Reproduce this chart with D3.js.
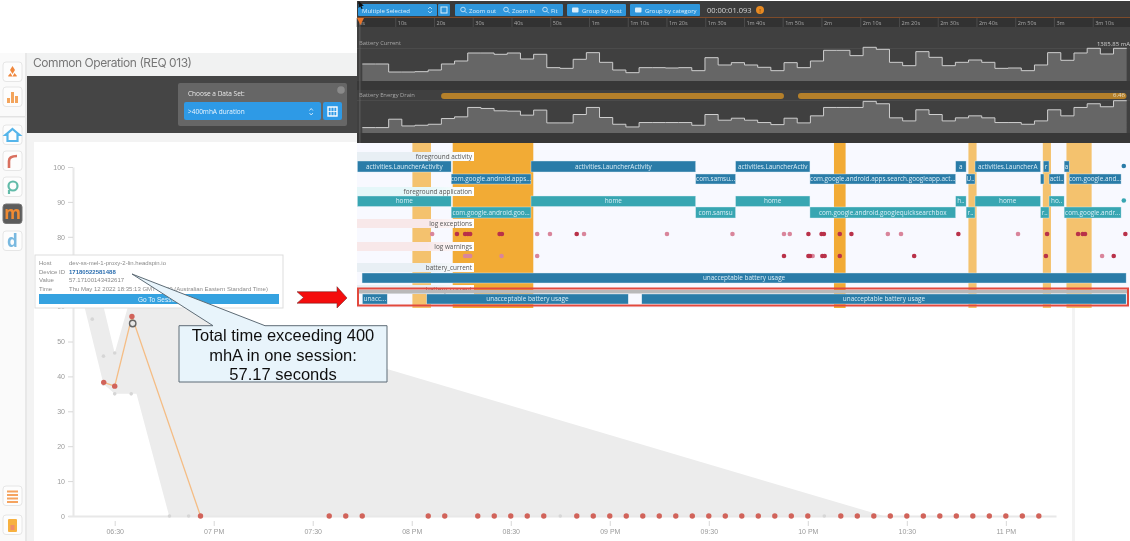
<!DOCTYPE html>
<html>
<head>
<meta charset="utf-8">
<script src="https://d3js.org/d3.v7.min.js"></script>
<style>
html, body { margin: 0; padding: 0; background: #fff; overflow: hidden; }
svg { display: block; }
text { font-family: "Open Sans", sans-serif; }
</style>
</head>
<body>
<svg id="chart" width="1130" height="541"></svg>
<script>
// Session chart: >400mhA duration per session
const sessionTimes = ['18:26:40', '18:30:00', '18:35:13', '18:56:00'];
const sessionValues = [38.3, 37.2, 57.17, 0];
const zeroTimes = ['19:35', '19:40', '19:45', '20:05', '20:10', '20:20', '20:25', '20:30', '20:35', '20:40',
  '20:50', '20:55', '21:00', '21:05', '21:10', '21:15', '21:20', '21:25', '21:30', '21:35', '21:40', '21:45',
  '21:50', '21:55', '22:00', '22:10', '22:15', '22:20', '22:25', '22:30', '22:35', '22:40', '22:45', '22:50',
  '22:55', '23:00', '23:05', '23:10'];
const otherTimes = ['18:23:12', '18:26:36', '18:30:00', '18:26:36', '18:30:00', '18:35:00', '18:46:36', '18:52:24', '20:45:00', '22:05:00'];
const otherValues = [56.4, 45.8, 46.7, 37.8, 35, 35, 0, 0, 0, 0];
const bandTimes = ['18:19:00', '18:26:36', '18:30:00', '18:35:13', '18:36:36', '18:46:30', '22:23:00'];
const bandLow = [67, 37.8, 35, 35, 35, 0, 0];
const bandHigh = [70, 60, 46.7, 64, 63.4, 60.6, 0];
const tickTimes = ['18:30', '19:00', '19:30', '20:00', '20:30', '21:00', '21:30', '22:00', '22:30', '23:00'];
const tickLabels = ['06:30', '07 PM', '07:30', '08 PM', '08:30', '09 PM', '09:30', '10 PM', '10:30', '11 PM'];
// 70 sits behind the tooltip in the picture
const yTicks = [0, 10, 20, 30, 40, 50, 60, 80, 90, 100];

// Waterfall overlay: one value per 3.4 second step
const currentSteps = [700, 700, 370, 370, 384, 453, 700, 823, 1152, 1152, 1098, 1152, 906, 1098, 549, 521, 892, 1166,
  768, 453, 343, 549, 549, 535, 549, 425, 960, 659, 755, 659, 563, 425, 755, 549, 823, 1262, 1262, 1043, 1386, 1303,
  768, 631, 1207, 974, 631, 768, 864, 768, 521, 535, 425, 659, 1166, 851, 1152, 1345, 1111, 1345];
const drainSteps = [1.08, 1.08, 2.76, 1.41, 1.55, 1.75, 2.89, 3.23, 5.11, 4.91, 4.44, 4.37, 3.57, 4.58, 2.02, 2.02, 3.7,
  5.11, 3.1, 1.75, 1.21, 2.09, 2.09, 2.09, 2.09, 1.55, 3.7, 2.56, 2.96, 2.56, 2.09, 1.68, 2.96, 2.02, 3.43, 5.11, 5.11,
  5.11, 6.33, 5.85, 3.03, 2.42, 4.64, 3.7, 2.42, 3.03, 3.43, 3.03, 2.09, 2.09, 1.75, 2.42, 4.64, 3.43, 5.11, 5.85, 5.25, 6.46];
const rulerSeconds = [0, 10, 20, 30, 40, 50, 60, 70, 80, 90, 100, 110, 120, 130, 140, 150, 160, 170, 180, 190];
const rulerLabels = ['0s', '10s', '20s', '30s', '40s', '50s', '1m', '1m 10s', '1m 20s', '1m 30s', '1m 40s', '1m 50s',
  '2m', '2m 10s', '2m 20s', '2m 30s', '2m 40s', '2m 50s', '3m', '3m 10s'];
const drainBars = [[21.7, 110.2], [113.8, 198.6]];

const strongBands = [[24.7, 45.5], [123.1, 126.1]];
const lightBands = [[14.3, 19.1], [157.8, 159.9], [177, 179.1], [183.1, 189.6]];

const activityTop = [[0.1, 24.3, 'activities.LauncherActivity'], [44.9, 87.4, 'activities.LauncherActivity'],
  [97.7, 116.9, 'activities.LauncherActiv'], [154.5, 157.2, 'a'], [159.5, 176.4, 'activities.LauncherA'],
  [177.1, 178.6, 'r'], [182.5, 183.8, 'a']];
const activityLow = [[24.3, 44.9, 'com.google.android.apps...'], [87.4, 97.7, 'com.samsu...'],
  [116.9, 154.5, 'com.google.android.apps.search.googleapp.act...'], [157.2, 159.5, 'U..'], [176.4, 177.3, ''],
  [178.6, 182.5, 'acti..'], [183.8, 197.2, 'com.google.and...']];
const appTop = [[0.1, 24.3, 'home'], [44.9, 87.4, 'home'], [97.7, 116.9, 'home'], [154.5, 157.2, 'h..'],
  [159.5, 176.4, 'home'], [178.6, 182.5, 'ho..']];
const appLow = [[24.3, 44.9, 'com.google.android.goo...'], [87.4, 97.7, 'com.samsu'],
  [116.9, 154.5, 'com.google.android.googlequicksearchbox'], [157.2, 159.5, 'r..'], [176.4, 178.6, 'r..'],
  [182.5, 197.2, 'com.google.andr...']];
const endDots = [197.9];
const exceptionStrong = [25.8, 27.9, 28.6, 29.2, 36.8, 37.4, 56.7, 116.5, 119.9, 120.5, 124.6, 127.6, 155.2, 178.1, 186.1, 187.3, 187.9, 198.3];
const exceptionFaint = [19.4, 46.5, 49.8, 58.6, 80, 96.9, 110.2, 111.7, 137, 140.4, 170.6];
const warningStrong = [110.2, 116.5, 116.9, 120.1, 120.7, 124.6, 143.8, 177.8, 195.3];
const warningFaint = [27.9, 28.6, 29.2, 37.3, 46.5, 117.6, 192.3];
const usageTop = [[1.3, 198.5, 'unacceptable battery usage']];
const usageLow = [[1.4, 7.8, 'unacc...'], [18, 70, 'unacceptable battery usage'], [73.5, 198.5, 'unacceptable battery usage']];

const svg = d3.select('#chart');
const defs = svg.append('defs');
defs.append('filter').attr('id', 'soft').attr('x', '-2%').attr('y', '-2%').attr('width', '104%').attr('height', '104%')
  .append('feGaussianBlur').attr('stdDeviation', 0.65);
defs.append('filter').attr('id', 'softer').append('feGaussianBlur').attr('stdDeviation', 0.3);

function chipGradient(id, color) {
  let g = defs.append('linearGradient').attr('id', id);
  g.append('stop').attr('offset', '60%').attr('stop-color', color);
  g.append('stop').attr('offset', '100%').attr('stop-color', '#ffffff');
}
chipGradient('chipBlue', '#e8eff4');
chipGradient('chipCyan', '#e5f7f9');
chipGradient('chipPink', '#f8e8e9');

const page = svg.append('g').attr('filter', 'url(#soft)');

function box(parent, x, y, w, h, fill, r) {
  return parent.append('rect').attr('x', x).attr('y', y).attr('width', w).attr('height', h)
    .attr('fill', fill).attr('rx', r || 0);
}
function label(parent, x, y, str, size, color, anchor, family) {
  let t = parent.append('text').attr('x', x).attr('y', y).attr('font-size', size).attr('fill', color)
    .attr('text-anchor', anchor || 'start').text(str);
  if (family) t.style('font-family', family);
  return t;
}

// ---------- Page behind the overlay ----------
box(page, 0, 0, 1130, 541, '#ffffff');
box(page, 0, 53, 25, 488, '#fafafa');
box(page, 25, 53, 2, 488, '#e8e8e8');
box(page, 27, 53, 340, 23, '#f1f2f2');
box(page, 27, 76, 340, 57, '#444444');
box(page, 27, 133, 1048, 408, '#f3f3f3');
box(page, 34, 142, 1038, 399, '#ffffff');
label(page, 33, 67, 'Common Operation (REQ 013)', 12, '#777777', 'start', 'Inter').attr('textLength', 159);

box(page, 178, 83, 169, 43, '#666666', 2);
label(page, 188, 96, 'Choose a Data Set:', 6.5, '#e8e8e8');
box(page, 184, 102, 137, 18, '#2f9ae6', 2);
label(page, 188, 114, '>400mhA duration', 6.5, '#eaf5fd');
page.append('path').attr('d', 'M309.5 110.5l1.7-2 1.7 2M309.5 113l1.7 2 1.7-2').attr('fill', 'none').attr('stroke', '#e8f4fd').attr('stroke-width', 0.8);
box(page, 323, 102, 19, 18, '#2f9ae6', 2);
box(page, 328, 107, 9, 9, 'none').attr('stroke', '#fff').attr('stroke-width', 1.4);
page.append('path').attr('d', 'M331 107v9M334 107v9M328 111.5h9').attr('stroke', '#fff').attr('stroke-width', 0.8);
page.append('circle').attr('cx', 341).attr('cy', 90).attr('r', 3.8).attr('fill', '#8a8a8a');

// Sidebar tiles
const tileTops = [62, 87, 125, 151, 177, 204, 231, 486, 515, 545];
tileTops.forEach(function(top, i) {
  box(page, 3, top, 19, 19.5, i === 5 ? '#5b5b5b' : '#fdfdfd', 3).attr('stroke', i === 5 ? '#777' : '#e6e6e6');
});
box(page, 0, 116, 25, 1.5, '#e3e3e3');
// tile glyphs
page.append('path').attr('d', 'M12.5 66l2.5 4-2.5 4-2.5-4zM8 76l2.5-3 2 3.5h-4zM17 76l-2.5-3-2 3.5h4z').attr('fill', '#f0883e');
page.append('path').attr('d', 'M7 103v-5h3v5zM11 103v-11h3v11zM15 103v-7h3v7z').attr('fill', '#f3a45c');
page.append('path').attr('d', 'M12.5 129l7 6h-2v6h-10v-6h-2z').attr('fill', 'none').attr('stroke', '#55b5ea').attr('stroke-width', 2.2);
page.append('path').attr('d', 'M9 168v-7q0-5 8-5').attr('fill', 'none').attr('stroke', '#d9705f').attr('stroke-width', 2.6);
page.append('circle').attr('cx', 13).attr('cy', 186).attr('r', 4.5).attr('fill', 'none').attr('stroke', '#62bba9').attr('stroke-width', 2.2);
page.append('path').attr('d', 'M9 190v4').attr('stroke', '#62bba9').attr('stroke-width', 2.2);
label(page, 12.5, 219, 'm', 17, '#f08a32', 'middle').attr('font-weight', 700);
label(page, 12.5, 247, 'd', 17, '#79b9e0', 'middle').attr('font-weight', 700);
page.append('path').attr('d', 'M7 491.5h11M7 495h11M7 498.5h11M7 502h11').attr('stroke', '#f5a35f').attr('stroke-width', 2);
box(page, 8, 519, 9, 13, '#f7b13f', 1);
box(page, 10.5, 525, 4, 5, '#f08c6a');

// ---------- Session scatter ----------
const parseFull = d3.timeParse('%H:%M:%S');
const parseShort = d3.timeParse('%H:%M');
const x = d3.scaleTime().domain([parseFull('18:15:51'), parseFull('23:15:12')]).range([68, 1056]);
const y = d3.scaleLinear().domain([0, 100]).range([516, 167]);

const bandData = bandTimes.map((t, i) => ({ t: parseFull(t), low: bandLow[i], high: bandHigh[i] }));
const bandArea = d3.area().x(d => x(d.t)).y0(d => y(d.low)).y1(d => y(d.high));
page.append('path').datum(bandData).attr('d', bandArea).attr('fill', '#ececec');

const yAxis = page.append('g').attr('transform', 'translate(73,0)')
  .call(d3.axisLeft(y).tickValues(yTicks).tickSize(5).tickPadding(3).tickSizeOuter(0));
const xAxis = page.append('g').attr('transform', 'translate(0,516)')
  .call(d3.axisBottom(x).tickValues(tickTimes.map(parseShort)).tickFormat((d, i) => tickLabels[i]).tickSize(10).tickPadding(3).tickSizeOuter(0));
[yAxis, xAxis].forEach(function(axis) {
  axis.select('.domain').attr('stroke', '#e8e8e8').attr('stroke-width', 2);
  axis.selectAll('line').attr('stroke', '#d8d8d8');
  axis.selectAll('text').attr('fill', '#9a9a9a').attr('font-size', 7).style('font-family', '"Liberation Sans"');
});
xAxis.selectAll('line').attr('y1', 5);

page.selectAll('.other').data(otherTimes).join('circle').attr('class', 'other')
  .attr('cx', d => x(parseFull(d))).attr('cy', (d, i) => y(otherValues[i])).attr('r', 1.8).attr('fill', '#d6d6d6');

const sessionData = sessionTimes.map((t, i) => ({ t: parseFull(t), v: sessionValues[i] }));
page.append('path').datum(sessionData)
  .attr('d', d3.line().x(d => x(d.t)).y(d => y(d.v)))
  .attr('fill', 'none').attr('stroke', '#f5bd85').attr('stroke-width', 1.3);
page.selectAll('.session').data(sessionData).join('circle').attr('class', 'session')
  .attr('cx', d => x(d.t)).attr('cy', d => y(d.v)).attr('r', 2.7).attr('fill', '#d1645a');
page.selectAll('.zero').data(zeroTimes).join('circle').attr('class', 'zero')
  .attr('cx', d => x(parseShort(d))).attr('cy', y(0)).attr('r', 2.7).attr('fill', '#d1645a');

page.append('circle').attr('cx', 132.7).attr('cy', 323.5).attr('r', 3.2)
  .attr('fill', '#e8e8e8').attr('stroke', '#666').attr('stroke-width', 1.4);

// Tooltip
box(page, 35, 255, 248, 53, '#ffffff').attr('stroke', '#dddddd');
const tipKeys = ['Host', 'Device ID', 'Value', 'Time'];
const tipValues = ['dev-ss-mel-1-proxy-2-lin.headspin.io', '17180522581488', '57.17100143432617',
  'Thu May 12 2022 18:35:13 GMT+1000 (Australian Eastern Standard Time)'];
tipKeys.forEach(function(k, i) {
  label(page, 39, 265 + i * 8.5, k, 6, '#8a8a8a', 'start', '"Liberation Sans"');
  let v = label(page, 69, 265 + i * 8.5, tipValues[i], 6, i === 1 ? '#2d6fb0' : '#8a8a8a', 'start', '"Liberation Sans"');
  if (i === 1) v.attr('font-weight', 700);
});
box(page, 39, 294, 240, 10, '#36a2e0');
label(page, 159, 301.5, 'Go To Session', 6.5, '#eaf6fd', 'middle', '"Liberation Sans"');

// ---------- Waterfall overlay ----------
const lane = svg.append('g').attr('filter', 'url(#soft)');
const t = d3.scaleLinear().domain([0, 199.5]).range([357, 1130]);

box(lane, 357, 0, 773, 143, '#3f3f3f');
box(lane, 357, 0, 773, 1, '#ffffff');
box(lane, 357, 1, 773, 17, '#3a3a3a');
box(lane, 357, 18, 773, 9, '#333333');
box(lane, 357, 17, 773, 0.8, '#8f5126');
box(lane, 357, 81, 773, 9, '#393939');
box(lane, 357, 133, 773, 10, '#393939');
box(lane, 357, 48, 773, 0.6, '#565656');
box(lane, 357, 100, 773, 0.6, '#565656');

const toolbarButtons = [[358, 79, '', 0], [438, 12, '', 0], [455, 108, '', 0], [567, 59, 'Group by host', 15], [630, 70, 'Group by category', 15]];
toolbarButtons.forEach(function(b) {
  box(lane, b[0], 4, b[1], 12, '#2f96db', 1);
  if (b[2]) label(lane, b[0] + b[3], 12.5, b[2], 6, '#d8eefb');
});
label(lane, 362, 12.5, 'Multiple Selected', 6, '#d8eefb');
label(lane, 469, 12.5, 'Zoom out', 6, '#d8eefb');
label(lane, 512, 12.5, 'Zoom in', 6, '#d8eefb');
label(lane, 551, 12.5, 'Fit', 6, '#d8eefb');
label(lane, 707, 13, '00:00:01.093', 7.5, '#d5d5d5');
lane.append('circle').attr('cx', 760).attr('cy', 10).attr('r', 4).attr('fill', '#e88a20');
label(lane, 760, 12.5, '!', 6, '#4a3010', 'middle');
// toolbar glyphs: chevrons, table, magnifiers, group icons
lane.append('path').attr('d', 'M428 9l2-2 2 2M428 11l2 2 2-2').attr('fill', 'none').attr('stroke', '#d8eefb').attr('stroke-width', 0.7);
box(lane, 441, 7, 6, 6, 'none').attr('stroke', '#d8eefb').attr('stroke-width', 1);
[463, 506, 545].forEach(function(cx) {
  lane.append('circle').attr('cx', cx).attr('cy', 9.5).attr('r', 2.3).attr('fill', 'none').attr('stroke', '#d8eefb').attr('stroke-width', 0.8);
  lane.append('path').attr('d', 'M' + (cx + 1.8) + ' 11.2l2 2').attr('stroke', '#d8eefb').attr('stroke-width', 0.8);
});
[572, 635].forEach(function(bx) {
  box(lane, bx, 7.5, 6.5, 5, '#d8eefb', 1);
});

lane.selectAll('.rule').data(rulerSeconds).join('line').attr('class', 'rule')
  .attr('x1', d => t(d)).attr('x2', d => t(d)).attr('y1', 18).attr('y2', 27).attr('stroke', '#5a5a5a').attr('stroke-width', 0.6);
lane.selectAll('.ruleText').data(rulerSeconds).join('text').attr('class', 'ruleText')
  .attr('x', d => t(d) + 2).attr('y', 25).attr('font-size', 5.5).attr('fill', '#a5a5a5').text((d, i) => rulerLabels[i]);

label(lane, 359, 45, 'Battery Current', 5.8, '#a8a8a8');
label(lane, 359, 97, 'Battery Energy Drain', 5.8, '#a8a8a8');
label(lane, 1130, 45.5, '1385.85 mA', 6, '#cfcfcf', 'end');

function stepChart(values, maxValue, base, top) {
  let stepX = d3.scaleLinear().domain([0, values.length]).range([362.3, 1126.7]);
  let stepY = d3.scaleLinear().domain([0, maxValue]).range([base, top]);
  let pts = values.concat(values[values.length - 1]);
  lane.append('path').datum(pts)
    .attr('d', d3.area().curve(d3.curveStepAfter).x((d, i) => stepX(i)).y0(base).y1(d => stepY(d)))
    .attr('fill', '#666666');
  lane.append('path').datum(pts)
    .attr('d', d3.line().curve(d3.curveStepAfter).x((d, i) => stepX(i)).y(d => stepY(d)))
    .attr('fill', 'none').attr('stroke', '#cfcfcf').attr('stroke-width', 1);
}
stepChart(currentSteps, 1386, 81, 47.3);
drainBars.forEach(function(b) {
  box(lane, t(b[0]), 93, t(b[1]) - t(b[0]), 6, '#b5802a', 3);
});
label(lane, 1113, 96.5, '6.46', 6, '#e8dcc5');
stepChart(drainSteps, 6.46, 133, 100.7);

// Event rows
box(lane, 357, 143, 773, 165, '#f8f9ff');
function bands(list, color) {
  list.forEach(function(b) {
    box(lane, t(b[0]), 143, t(b[1]) - t(b[0]), 165, color);
  });
}
bands(lightBands, '#f4c26e');
bands(strongBands, '#f2ab36');

function chip(top, height, grad, text) {
  box(lane, 357, top, 117, height, grad);
  label(lane, 472, top + height - 2.5, text, 6.4, '#555555', 'end');
}
function bars(list, top, height, color) {
  list.forEach(function(b) {
    box(lane, t(b[0]), top, t(b[1]) - t(b[0]), height, color).attr('stroke', '#dfeef5').attr('stroke-width', 0.4);
    label(lane, (t(b[0]) + t(b[1])) / 2, top + height / 2 + 2.2, b[2], 6.4, '#d9eef7', 'middle');
  });
}
function dots(list, cy, color) {
  lane.selectAll(null).data(list).join('circle')
    .attr('cx', d => t(d)).attr('cy', cy).attr('r', 2.3).attr('fill', color);
}

chip(152, 9, 'url(#chipBlue)', 'foreground activity');
bars(activityTop, 161, 11, '#2b7ca8');
bars(activityLow, 174, 10, '#2b7ca8');
dots(endDots, 166, '#2b7ca8');
chip(187, 9, 'url(#chipCyan)', 'foreground application');
bars(appTop, 196, 10.5, '#38a6b2');
bars(appLow, 207, 11, '#38a6b2');
dots(endDots, 200.5, '#38a6b2');
chip(219, 9, 'url(#chipPink)', 'log exceptions');
dots(exceptionFaint, 234, '#d9859b');
dots(exceptionStrong, 234, '#b9304a');
chip(242, 9, 'url(#chipPink)', 'log warnings');
dots(warningFaint, 256, '#d9859b');
dots(warningStrong, 256, '#b9304a');
chip(263, 9, 'url(#chipBlue)', 'battery_current');
bars(usageTop, 273, 10, '#2b7ca8');
chip(285, 9, 'url(#chipBlue)', 'battery_current');
box(lane, 358, 290, 770, 3.5, '#b9b9b9');
bars(usageLow, 294, 10, '#2b7ca8');

// Playhead
box(lane, 359.5, 18, 0.8, 125, '#666666');
lane.append('path').attr('d', 'M357 18h7l-3.5 7z').attr('fill', '#e8742c');

// Cursor in the corner
svg.append('path').attr('d', 'M358.5 1l0 7 1.8-1.6 1.2 2.6 1.2-.6-1.2-2.5 2.4-.2z').attr('fill', '#111111');

// ---------- Annotations on top ----------
const notes = svg.append('g').attr('filter', 'url(#softer)');
notes.append('rect').attr('x', 358).attr('y', 288.5).attr('width', 770).attr('height', 17)
  .attr('fill', 'none').attr('stroke', '#e2493e').attr('stroke-width', 2);
notes.append('path').attr('d', 'M297 291.7h40v-5l10 11.3-10 10v-4.8h-40l6.5-5.7z')
  .attr('fill', '#f40a0a').attr('stroke', '#7a3030').attr('stroke-width', 0.6);
notes.append('path').attr('d', 'M179 325.7h34L132 274l133 51.7h122V382H179z')
  .attr('fill', '#e8f4fb').attr('stroke', '#5e6c76').attr('stroke-width', 1);
['Total time exceeding 400', 'mhA in one session:', '57.17 seconds'].forEach(function(s, i) {
  label(notes, 283, 341 + i * 19.5, s, 16.5, '#111111', 'middle', '"Liberation Sans"');
});
</script>
</body>
</html>
